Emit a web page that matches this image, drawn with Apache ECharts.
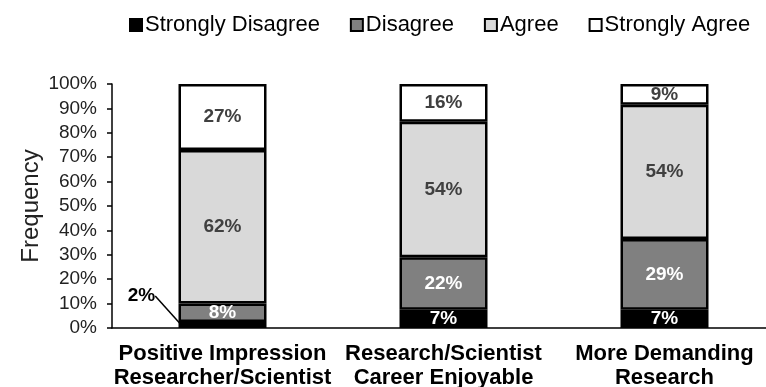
<!DOCTYPE html>
<html><head><meta charset="utf-8">
<script src="https://cdn.jsdelivr.net/npm/echarts@6/dist/echarts.min.js"></script>
<style>html,body{margin:0;padding:0;background:#fff}#c{width:766px;height:387px}</style>
</head><body><div id="c"></div>
<script>
var categories = ['Positive Impression\nResearcher/Scientist', 'Research/Scientist\nCareer Enjoyable', 'More Demanding\nResearch'];
var seriesNames = ['Strongly Disagree', 'Disagree', 'Agree', 'Strongly Agree'];
var stronglyDisagree = [2.5, 7.5, 7.5];
var disagree = [7.5, 21.5, 29];
var agree = [63, 55.5, 55];
var stronglyAgree = [27, 15.5, 8.5];
var labelsSD = ['2%', '7%', '7%'];
var labelsD = ['8%', '22%', '29%'];
var labelsA = ['62%', '54%', '54%'];
var labelsSA = ['27%', '16%', '9%'];
var yTicks = [0, 10, 20, 30, 40, 50, 60, 70, 80, 90, 100];

var FONT = 'Liberation Sans, Arial, sans-serif';
var colors = ['#000000', '#808080', '#d9d9d9', '#ffffff'];
var labelColors = ['#ffffff', '#ffffff', '#404040', '#404040'];
var values = [stronglyDisagree, disagree, agree, stronglyAgree];
var labelTexts = [labelsSD, labelsD, labelsA, labelsSA];

var chart = echarts.init(document.getElementById('c'));
var series = seriesNames.map(function (name, si) {
  return {
    name: name,
    type: 'bar',
    stack: 'total',
    barWidth: 88,
    itemStyle: { color: colors[si], borderColor: '#000', borderWidth: 2.5 },
    label: {
      show: true,
      position: 'inside',
      fontFamily: FONT,
      fontWeight: 'bold',
      fontSize: 19,
      color: labelColors[si],
      formatter: function (p) { return labelTexts[si][p.dataIndex]; }
    },
    labelLayout: si === 0 ? function (p) {
      if (p.dataIndex === 0) return { dx: -81, dy: -29 };
      return {};
    } : undefined,
    data: values[si].map(function (v, i) {
      if (si === 0 && i === 0) {
        return {
          value: v,
          label: { color: '#000' },
          labelLine: { show: true, lineStyle: { color: '#000', width: 1.5 } }
        };
      }
      return v;
    }),
    emphasis: { disabled: true },
    animation: false
  };
});

chart.setOption({
  animation: false,
  legend: {
    top: 9,
    left: 124,
    icon: 'rect',
    itemWidth: 12,
    itemHeight: 12,
    itemGap: 30,
    textStyle: { fontFamily: FONT, fontSize: 22, color: '#000', padding: [0, 0, 0, -2] },
    data: seriesNames
  },
  grid: { left: 112, top: 84, width: 663, height: 244, containLabel: false, outerBoundsMode: 'none' },
  xAxis: {
    type: 'category',
    data: categories,
    axisLine: { lineStyle: { color: '#000', width: 1.5 } },
    axisTick: { show: false },
    axisLabel: {
      interval: 0,
      margin: 14,
      fontFamily: FONT,
      fontWeight: 'bold',
      fontSize: 22,
      lineHeight: 24,
      color: '#000'
    }
  },
  yAxis: {
    type: 'value',
    min: yTicks[0],
    max: yTicks[yTicks.length - 1],
    interval: 10,
    name: 'Frequency',
    nameLocation: 'middle',
    nameRotate: 90,
    nameGap: 69,
    nameMoveOverlap: false,
    nameTextStyle: { fontFamily: FONT, fontSize: 24, color: '#222' },
    axisLine: { show: true, lineStyle: { color: '#000', width: 1.5 } },
    axisTick: { show: true, length: 5, lineStyle: { color: '#000', width: 1.5 } },
    splitLine: { show: false },
    axisLabel: {
      margin: 15,
      fontFamily: FONT,
      fontSize: 19,
      color: '#222',
      formatter: '{value}%'
    }
  },
  series: series
});
</script></body></html>
